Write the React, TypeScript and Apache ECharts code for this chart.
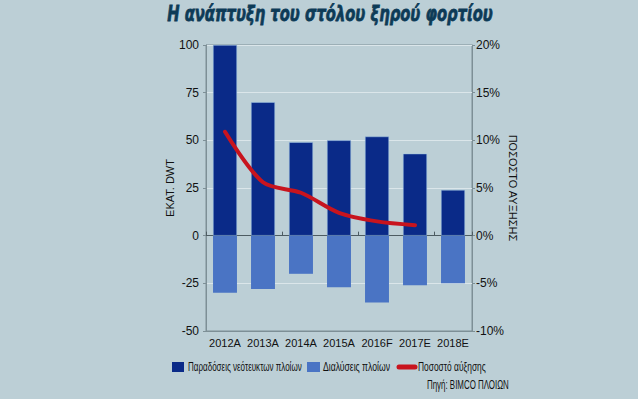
import React, { useEffect, useRef } from "react";
import * as echarts from "echarts";

const categories = ["2012A", "2013A", "2014A", "2015A", "2016F", "2017E", "2018E"];
const deliveries = [100, 70, 49, 50, 52, 43, 24];
const demolitions = [-30, -28, -20, -27, -35, -26, -25];
const growthPct = [10.9, 5.6, 4.5, 2.4, 1.5, 1.1, null];
const leftTicks = { min: -50, max: 100, interval: 25 };
const rightTicks = { min: -10, max: 20, interval: 5 };

const SERIES_NAMES = ["Παραδόσεις νεότευκτων πλοίων", "Διαλύσεις πλοίων", "Ποσοστό αύξησης"];
const COLORS = ["#0a2a88", "#4a74c4", "#c8141e"];

const FONT = "'Liberation Sans', 'Arial', sans-serif";

export default function App() {
  const ref = useRef<HTMLDivElement>(null);
  useEffect(() => {
    if (!ref.current) return;
    const chart = echarts.init(ref.current, undefined, { renderer: "svg" });
    const legendText = (x: number, text: string, sx: number) => ({
      type: "text",
      x,
      y: 367,
      scaleX: sx,
      style: {
        text,
        fontFamily: FONT,
        fontSize: 12,
        fill: "#111",
        verticalAlign: "middle",
      },
    });
    chart.setOption({
      animation: false,
      backgroundColor: "#bccfd6",
      textStyle: { fontFamily: FONT },
      grid: {
        left: 206,
        right: 166,
        top: 45,
        bottom: 68,
        show: true,
        borderColor: "#7d8f96",
        borderWidth: 1,
        backgroundColor: "transparent",
      },
      xAxis: [
        {
          type: "category",
          data: categories,
          position: "bottom",
          axisLine: { onZero: false, lineStyle: { color: "#7d8f96" } },
          axisTick: { show: false },
          axisLabel: { fontFamily: FONT, fontSize: 11, color: "#111", margin: 6, interval: 0 },
        },
        {
          type: "category",
          data: categories,
          position: "bottom",
          axisLine: { onZero: true, lineStyle: { color: "#4d5c62" } },
          axisTick: { show: true, inside: true, length: 4, lineStyle: { color: "#4d5c62" } },
          axisLabel: { show: false },
        },
      ],
      yAxis: [
        {
          type: "value",
          min: leftTicks.min,
          max: leftTicks.max,
          interval: leftTicks.interval,
          name: "ΕΚΑΤ. DWT",
          nameLocation: "middle",
          nameGap: 30,
          nameRotate: 90,
          nameTextStyle: { fontFamily: FONT, fontSize: 11, color: "#111" },
          axisLine: { show: true, lineStyle: { color: "#7d8f96" } },
          axisTick: { show: true, length: 3, lineStyle: { color: "#7d8f96" } },
          axisLabel: { fontFamily: FONT, fontSize: 12, color: "#111", margin: 7 },
          splitLine: { show: true, lineStyle: { color: "#dbe6ea", width: 1 } },
        },
        {
          type: "value",
          min: rightTicks.min,
          max: rightTicks.max,
          interval: rightTicks.interval,
          position: "right",
          name: "ΠΟΣΟΣΤΟ ΑΥΞΗΣΗΣ",
          nameLocation: "middle",
          nameGap: 27,
          nameRotate: -90,
          nameTextStyle: { fontFamily: FONT, fontSize: 11, color: "#111" },
          axisLine: { show: true, lineStyle: { color: "#7d8f96" } },
          axisTick: { show: true, length: 3, lineStyle: { color: "#7d8f96" } },
          axisLabel: { fontFamily: FONT, fontSize: 12, color: "#111", margin: 4, formatter: "{value}%" },
          splitLine: { show: false },
        },
      ],
      series: [
        {
          name: SERIES_NAMES[0],
          type: "bar",
          data: deliveries,
          stack: "fleet",
          barWidth: "63%",
          itemStyle: { color: COLORS[0], borderColor: "#9fc4e4", borderWidth: 0.5 },
          z: 2,
        },
        {
          name: SERIES_NAMES[1],
          type: "bar",
          data: demolitions,
          stack: "fleet",
          barWidth: "63%",
          itemStyle: { color: COLORS[1] },
          z: 2,
        },
        {
          name: SERIES_NAMES[2],
          type: "line",
          yAxisIndex: 1,
          data: growthPct,
          smooth: 0.3,
          symbol: "none",
          lineStyle: { color: COLORS[2], width: 4, cap: "round" },
          itemStyle: { color: COLORS[2] },
          z: 5,
        },
      ],
      graphic: [
        {
          type: "text",
          x: 330,
          y: 13,
          scaleX: 0.67,
          style: {
            text: "Η ανάπτυξη του στόλου ξηρού φορτίου",
            fontFamily: "'DejaVu Sans', sans-serif",
            fontSize: 22,
            fontWeight: "bold",
            fontStyle: "italic",
            fill: "#0d3b57",
            stroke: "#0d3b57",
            lineWidth: 0.8,
            align: "center",
            verticalAlign: "middle",
          },
        },
        { type: "rect", shape: { x: 172, y: 362, width: 12, height: 10 }, style: { fill: COLORS[0] } },
        legendText(188, SERIES_NAMES[0], 0.67),
        { type: "rect", shape: { x: 307, y: 362, width: 13, height: 10 }, style: { fill: COLORS[1] } },
        legendText(323, SERIES_NAMES[1], 0.72),
        {
          type: "line",
          shape: { x1: 399, y1: 367, x2: 415, y2: 367 },
          style: { stroke: COLORS[2], lineWidth: 5, lineCap: "round" },
        },
        legendText(418, SERIES_NAMES[2], 0.7),
        {
          type: "text",
          x: 427,
          y: 385,
          scaleX: 0.66,
          style: {
            text: "Πηγή: BIMCO ΠΛΟΙΩΝ",
            fontFamily: FONT,
            fontSize: 12,
            fill: "#111",
            verticalAlign: "middle",
          },
        },
      ],
    });
    return () => chart.dispose();
  }, []);
  return <div ref={ref} style={{ width: 638, height: 399, position: "absolute", left: 0, top: 0 }} />;
}
